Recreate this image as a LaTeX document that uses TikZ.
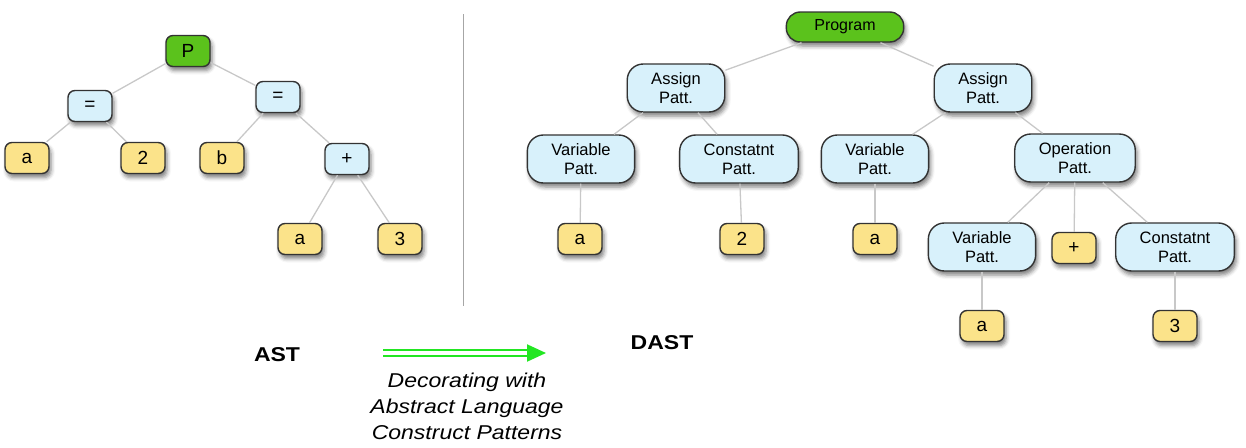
\documentclass[tikz,border=0pt]{standalone}
\usepackage{fontspec}
\setmainfont{Liberation Sans}
\newfontfamily\widefont[FakeStretch=1.15]{Liberation Sans}
\usepackage{xcolor}
\usetikzlibrary{positioning, arrows.meta, shadows.blur}

\definecolor{rootgreen}{HTML}{5BC21C}
\definecolor{nodeblue}{HTML}{D8F1FB}
\definecolor{leafyellow}{HTML}{FBE38A}
\definecolor{edgegray}{HTML}{C8C8C8}
\definecolor{arrowgreen}{HTML}{22E622}

\begin{document}
\begin{tikzpicture}[
  x=1pt, y=-1pt,
  box/.style={draw=black!80, line width=1.4pt, rounded corners=7pt,
    minimum width=44pt, minimum height=31pt, inner sep=0pt,
    font=\fontsize{19}{22}\selectfont,
    blur shadow={shadow xshift=2pt, shadow yshift=-4pt, shadow blur radius=4pt, shadow opacity=50}},
  root/.style={box, fill=rootgreen},
  op/.style={box, fill=nodeblue},
  leaf/.style={box, fill=leafyellow},
  patt/.style={box, fill=nodeblue, rounded corners=16pt, minimum height=48pt,
    inner xsep=24pt, align=center, font=\fontsize{16.5}{19}\selectfont},
  prog/.style={box, fill=rootgreen, rounded corners=14pt, minimum height=30pt,
    inner xsep=28pt, font=\fontsize{16}{19}\selectfont},
  tree/.style={draw=edgegray, line width=1.3pt},
  title/.style={font=\widefont\fontsize{20}{24}\selectfont\bfseries},
  caption/.style={font=\widefont\fontsize{20}{26}\selectfont\itshape, align=center}
]
\useasboundingbox (0,0) rectangle (1246,447);

% AST
\node[root] (p)    at (188,51)  {P};
\node[op]   (eqa)  at (90,106)  {=};
\node[op]   (eqb)  at (278,97)  {=};
\node[leaf] (la)   at (27,158)  {a};
\node[leaf] (l2)   at (143,158) {2};
\node[leaf] (lb)   at (222,158) {b};
\node[op]   (plus) at (347,159) {+};
\node[leaf] (la2)  at (300,239) {a};
\node[leaf] (l3)   at (400,239) {3};

\draw[tree] (p) -- (eqa);
\draw[tree] (p) -- (eqb);
\draw[tree] (eqa) -- (la);
\draw[tree] (eqa) -- (l2);
\draw[tree] (eqb) -- (lb);
\draw[tree] (eqb) -- (plus);
\draw[tree] (plus) -- (la2);
\draw[tree] (plus) -- (l3);

% divider
\coordinate (divtop) at (463,14);
\coordinate (divbot) at (463,306);
\draw[black!35, line width=1pt] (divtop) -- (divbot);

% DAST
\node[prog] (prog)   at (845,27)  {Program};
\node[patt] (asga)   at (676,88)  {Assign\\Patt.};
\node[patt] (asgb)   at (983,88)  {Assign\\Patt.};
\node[patt] (vara)   at (581,159) {Variable\\Patt.};
\node[patt] (consta) at (739,159) {Constatnt\\Patt.};
\node[patt] (varb)   at (875,159) {Variable\\Patt.};
\node[patt] (oper)   at (1075,158) {Operation\\Patt.};
\node[leaf] (ra)     at (580,239) {a};
\node[leaf] (r2)     at (742,239) {2};
\node[leaf] (rb)     at (875,239) {a};
\node[patt] (varc)   at (982,247) {Variable\\Patt.};
\node[leaf] (rplus)  at (1074,248) {+};
\node[patt] (constb) at (1175,247) {Constatnt\\Patt.};
\node[leaf] (rc)     at (982,326) {a};
\node[leaf] (r3)     at (1175,326) {3};

\draw[tree] (prog) -- (asga);
\draw[tree] (prog) -- (asgb);
\draw[tree] (asga) -- (vara);
\draw[tree] (asga) -- (consta);
\draw[tree] (asgb) -- (varb);
\draw[tree] (asgb) -- (oper);
\draw[tree] (vara) -- (ra);
\draw[tree] (consta) -- (r2);
\draw[tree] (varb) -- (rb);
\draw[tree] (oper) -- (varc);
\draw[tree] (oper) -- (rplus);
\draw[tree] (oper) -- (constb);
\draw[tree] (varc) -- (rc);
\draw[tree] (constb) -- (r3);

% bottom
\node[title] (ast)  at (277,355) {AST};
\node[title] (dast) at (662,343) {DAST};
\coordinate (arrfrom) at (383,353);
\coordinate (arrto)   at (546,353);
\draw[arrowgreen, line width=2pt, double=white, double distance=3.5pt,
  -{Triangle[length=19pt, width=17pt]}] (arrfrom) -- (arrto);
\node[caption] (deco) at (467,406) {Decorating with\\Abstract Language\\Construct Patterns};
\end{tikzpicture}
\end{document}
